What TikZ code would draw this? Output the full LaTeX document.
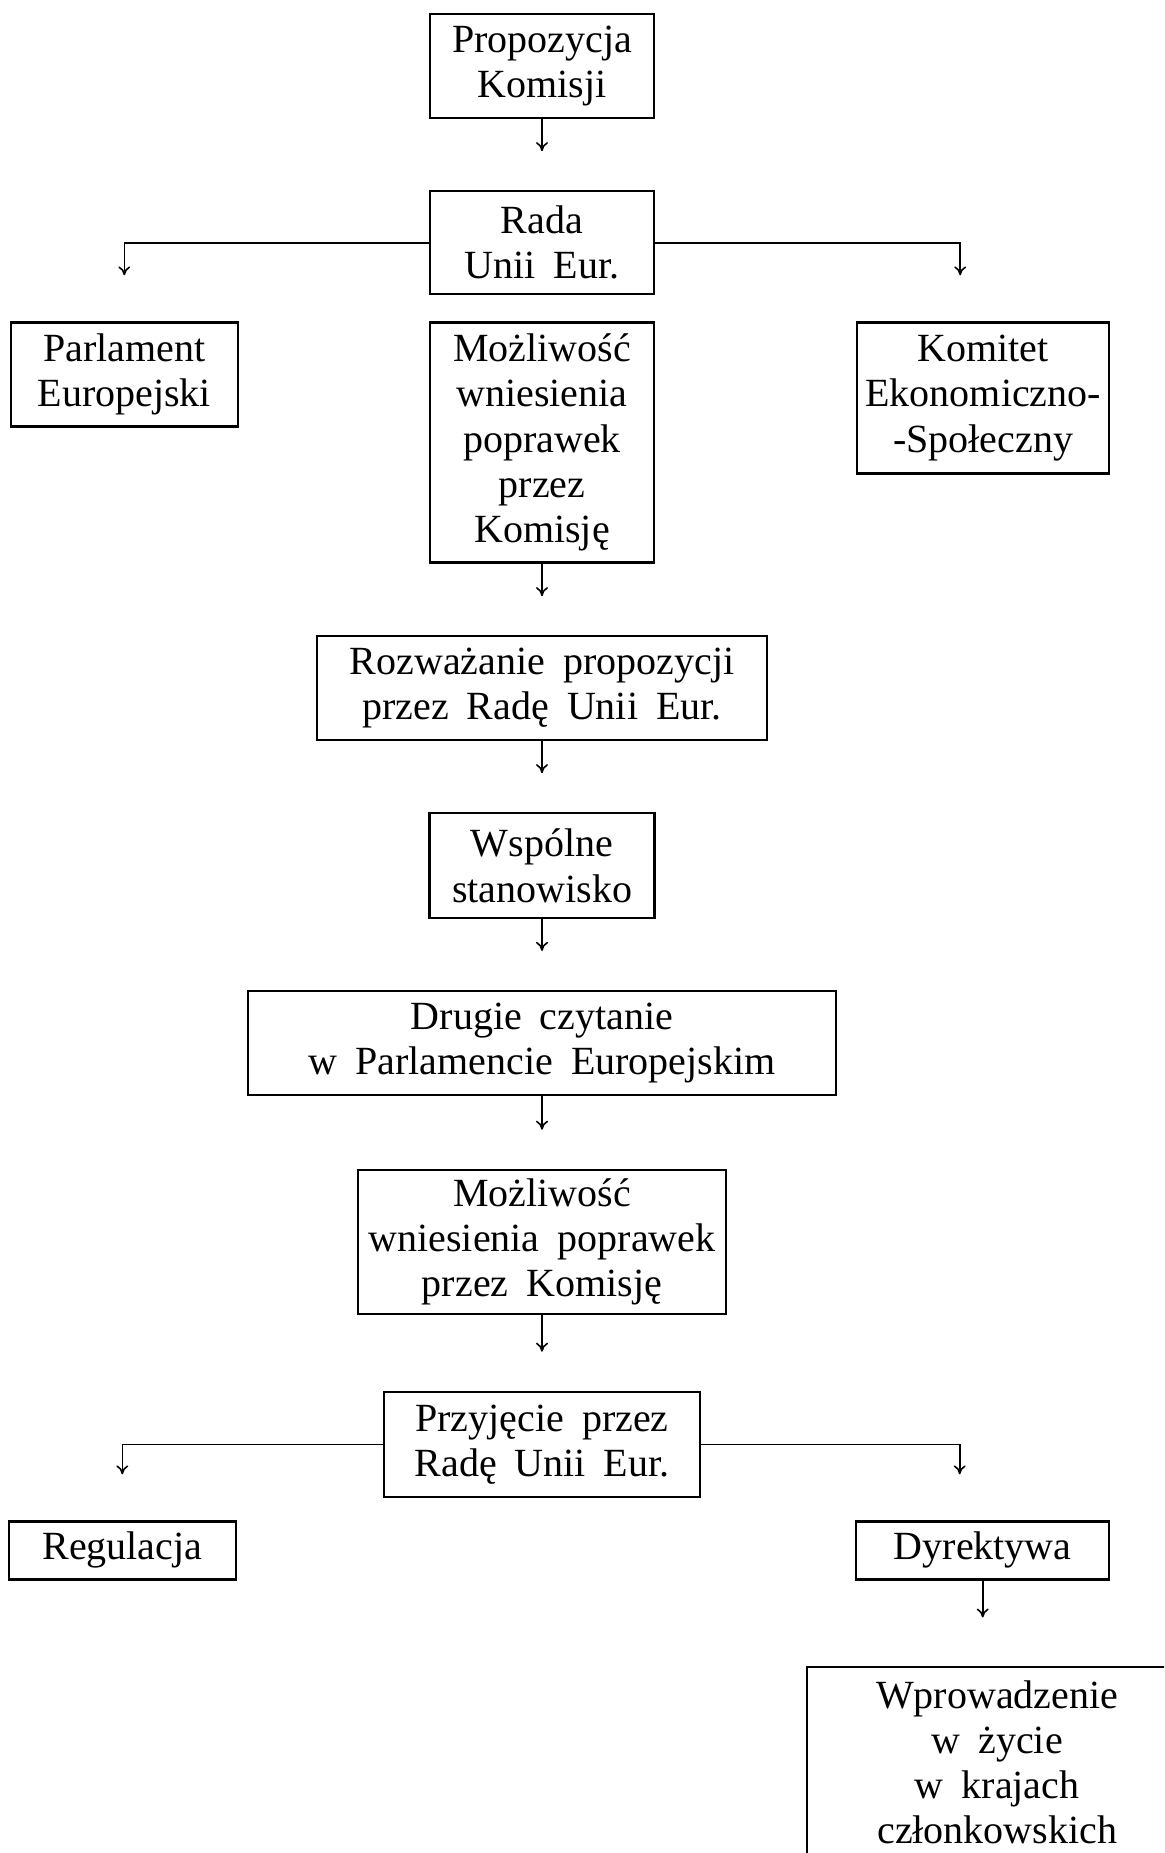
\documentclass[tikz,border=0pt]{standalone}
\usepackage{fontspec}
\setmainfont{Liberation Serif}[WordSpace=1.8]
\usetikzlibrary{positioning,arrows.meta}
\tikzset{node distance=35.5pt,
  box/.style={draw, line width=1.1pt, align=center, inner xsep=4pt, inner ysep=2pt,
    font={\fontsize{20pt}{22.6pt}\selectfont}},
  arr/.style={-{To[length=4.5pt,width=6pt]}, line width=0.8pt, shorten >=19.5pt}}

\begin{document}
\begin{tikzpicture}
	\clip (0,0) rectangle (582pt,-926.5pt);
	% glowna kolumna
	\node[box, minimum width=112pt, minimum height=52pt] (prop) at (271pt,-33pt) {Propozycja\\Komisji};
	\node[box, minimum width=112pt, minimum height=51.5pt, below=of prop] (rada) {Rada\\Unii Eur.};
	\node[box, minimum width=112pt, minimum height=120pt, below=13pt of rada] (mozl) {Możliwość\\wniesienia\\poprawek\\przez\\Komisję};
	\node[box, minimum width=113.5pt, minimum height=52pt, left=95pt of mozl.north west, anchor=north east] (parl) {Parlament\\Europejski};
	\node[box, minimum width=126pt, minimum height=75.5pt, right=100.5pt of mozl.north east, anchor=north west] (kom) {Komitet\\Ekonomiczno-\\-Społeczny};
	\node[box, minimum width=225pt, minimum height=52pt, below=35.8pt of mozl] (rozw) {Rozważanie propozycji\\przez Radę Unii Eur.};
	\node[box, minimum width=112.5pt, minimum height=52.5pt, below=35.4pt of rozw] (wsp) {Wspólne\\stanowisko};
	\node[box, minimum width=294pt, minimum height=52pt, below=35.3pt of wsp] (drugie) {Drugie czytanie\\w Parlamencie Europejskim};
	\node[box, minimum width=184pt, minimum height=72pt, below=36.3pt of drugie] (mozlb) {Możliwość\\wniesienia poprawek\\przez Komisję};
	\node[box, minimum width=158pt, minimum height=52.5pt, below=37.9pt of mozlb] (przy) {Przyjęcie przez\\Radę Unii Eur.};
	% akty
	\node[box, minimum width=113.5pt, minimum height=29pt, below left=11.2pt and 73pt of przy.south west] (reg) {Regulacja};
	\node[box, minimum width=126.5pt, minimum height=29pt, below right=11.2pt and 77pt of przy.south east] (dyr) {Dyrektywa};
	\node[box, minimum width=190pt, inner ysep=7pt, below=42.5pt of dyr.south west, anchor=north west, xshift=-24.5pt] (wprow) {Wprowadzenie\\w życie\\w krajach\\członkowskich};

	\draw[arr] (prop) -- (rada);
	\draw[arr, shorten >=23pt] (rada.west) -| (parl.north);
	\draw[arr, shorten >=23pt] (rada.east) -| ([xshift=-11.5pt]kom.north);
	\draw[arr] (mozl) -- (rozw);
	\draw[arr] (rozw) -- (wsp);
	\draw[arr] (wsp) -- (drugie);
	\draw[arr] (drugie) -- (mozlb);
	\draw[arr] (mozlb) -- (przy);
	\draw[arr, shorten >=23pt] (przy.west) -| (reg.north);
	\draw[arr, shorten >=23pt] (przy.east) -| ([xshift=-11.5pt]dyr.north);
	\draw[arr, shorten >=24pt] (dyr.south) -- (dyr.south |- wprow.north);
\end{tikzpicture}
\end{document}
